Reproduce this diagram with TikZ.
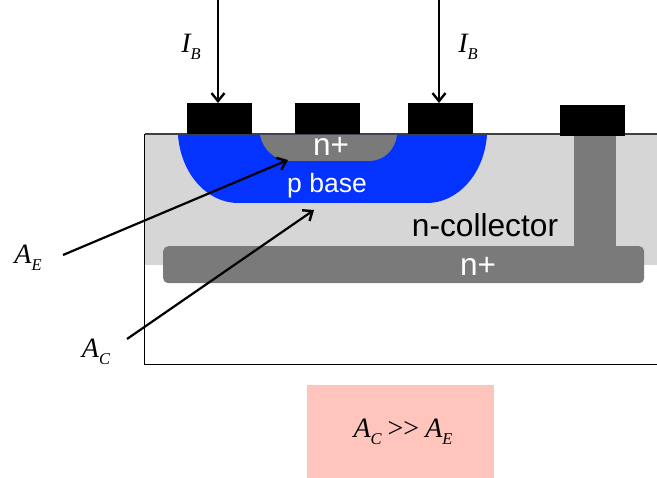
\documentclass[tikz,border=0pt]{standalone}
\usepackage{fontspec}
\setmainfont{Liberation Sans}
\newfontfamily\tms{Liberation Serif}
\usetikzlibrary{arrows.meta}
\definecolor{substrate}{HTML}{D6D6D6}
\definecolor{ngray}{HTML}{7A7A7A}
\definecolor{pblue}{HTML}{0433FF}
\definecolor{pinkbox}{HTML}{FFC4BB}
\newcommand{\lab}[2]{{\tms\itshape\fontsize{28}{30}\selectfont #1\raisebox{-7pt}{\fontsize{16.5}{18}\selectfont #2}}}
\tikzset{
  x=1pt,y=-1pt,
  contact/.style={fill=black,draw=none,inner sep=0,minimum width=65pt,minimum height=31pt,anchor=north west},
  wlabel/.style={text=white,font=\fontsize{31.5}{33}\selectfont,inner sep=0},
  ptr/.style={draw=black,line width=2.2pt,-{Straight Barb[length=8pt,width=13pt,line width=2.4pt]}},
}
\begin{document}
\begin{tikzpicture}
\useasboundingbox (0,0) rectangle (657,478);
% outline and collector
\draw[black,line width=1.4pt] (657,364.5) -- (144.5,364.5) -- (144.5,134);
\fill[substrate] (145,134) rectangle (657,265);
\draw[black!75,line width=1.2pt] (144.5,134) -- (657,134);
\draw[black,line width=1.4pt] (144.5,134) -- (144.5,265);
% p base
\fill[pblue] (178,135) .. controls (181,175) and (208,203) .. (238,203) -- (427,203) .. controls (457,203) and (484,175) .. (487,135) -- cycle;
% n+ emitter
\fill[ngray] (260,135) .. controls (263,150) and (275,161) .. (291,161) -- (369,161) .. controls (384,161) and (395,150) .. (397,135) -- cycle;
% sinker and buried layer
\fill[ngray] (574,135) rectangle (616,250);
\node[fill=ngray,rounded corners=5pt,inner sep=0,minimum width=481pt,minimum height=37pt,anchor=north west] (buried) at (163,246) {};
% contacts
\node[contact] (c1) at (187,103) {};
\node[contact] (c2) at (295,103) {};
\node[contact] (c3) at (408,103) {};
\node[contact] (c4) at (560,105) {};
% texts
\node[wlabel] (nem) at (331,146) {n+};
\node[wlabel,font=\fontsize{26.5}{28}\selectfont] (pb) at (327,186) {p base};
\node[inner sep=0,font=\fontsize{31.7}{33}\selectfont] (nc) at (485,225) {n-collector};
\node[wlabel] (nbur) at (478,266) {n+};
\node[inner sep=0] (ib1) at (191,47) {\lab{I}{B}};
\node[inner sep=0] (ib2) at (468,47) {\lab{I}{B}};
\node[inner sep=0] (ae) at (28,258) {\lab{A}{E}};
\node[inner sep=0] (ac) at (96,352) {\lab{A}{C}};
\node[fill=pinkbox,inner sep=0,minimum width=187pt,minimum height=93pt,anchor=north west] (cond) at (307,385) {};
\node[inner sep=0] (condt) at (403,432) {\lab{A}{C}{\tms\fontsize{28}{30}\selectfont\ \kern-1pt>>\kern-1pt\ }\lab{A}{E}};
% arrows
\coordinate (s1) at (218,0);
\coordinate (s2) at (439,0);
\coordinate (s3) at (63,255);
\coordinate (s4) at (127,339);
\coordinate (t3) at (288,160);
\coordinate (t4) at (314,210);
\draw[ptr] (s1) -- (s1 |- c1.north);
\draw[ptr] (s2) -- (s2 |- c3.north);
\draw[ptr] (s3) -- (t3);
\draw[ptr] (s4) -- (t4);
\end{tikzpicture}
\end{document}
